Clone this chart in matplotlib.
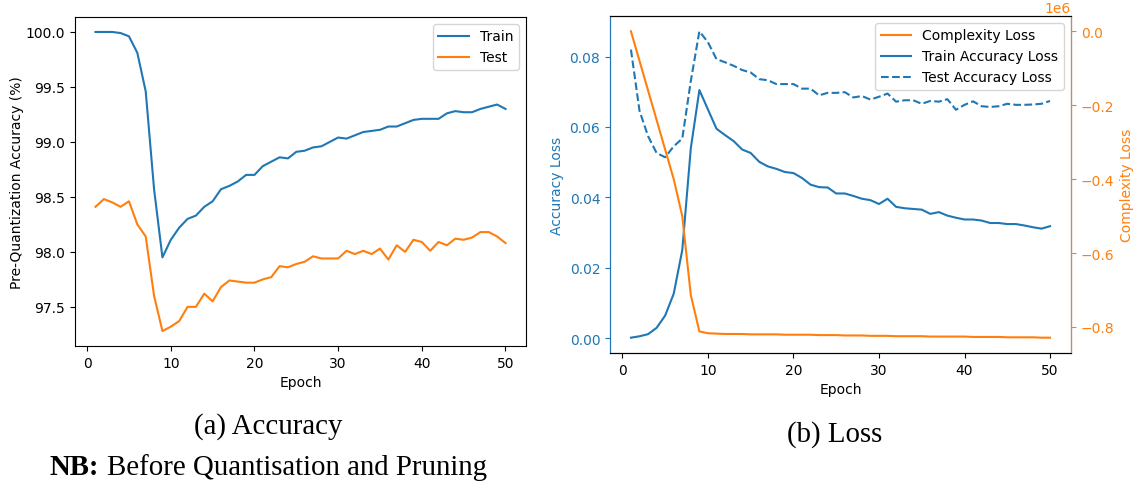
import matplotlib
matplotlib.use("Agg")
import matplotlib.pyplot as plt
import numpy as np

epochs = list(range(1, 51))

train_acc = [100.0, 100.0, 100.0, 99.99, 99.96, 99.81, 99.46, 98.57, 97.95, 98.11,
             98.22, 98.30, 98.33, 98.41, 98.46, 98.57, 98.60, 98.64, 98.70, 98.70,
             98.78, 98.82, 98.86, 98.85, 98.91, 98.92, 98.95, 98.96, 99.00, 99.04,
             99.03, 99.06, 99.09, 99.10, 99.11, 99.14, 99.14, 99.17, 99.20, 99.21,
             99.21, 99.21, 99.26, 99.28, 99.27, 99.27, 99.30, 99.32, 99.34, 99.30]

test_acc = [98.41, 98.48, 98.45, 98.41, 98.46, 98.25, 98.14, 97.60, 97.28, 97.32,
            97.37, 97.50, 97.50, 97.62, 97.55, 97.68, 97.74, 97.73, 97.72, 97.72,
            97.75, 97.77, 97.87, 97.86, 97.89, 97.91, 97.96, 97.94, 97.94, 97.94,
            98.01, 97.98, 98.01, 97.98, 98.03, 97.93, 98.06, 98.00, 98.11, 98.09,
            98.01, 98.09, 98.06, 98.12, 98.11, 98.13, 98.18, 98.18, 98.14, 98.08]

train_loss = [0.0001, 0.0005, 0.0011, 0.0029, 0.0064, 0.0126, 0.0250, 0.0540, 0.0705, 0.0650,
              0.0595, 0.0577, 0.0560, 0.0536, 0.0526, 0.0501, 0.0488, 0.0481, 0.0472, 0.0469,
              0.0455, 0.0436, 0.0429, 0.0428, 0.0411, 0.0411, 0.0404, 0.0396, 0.0392, 0.0381,
              0.0396, 0.0373, 0.0369, 0.0367, 0.0365, 0.0353, 0.0358, 0.0348, 0.0342, 0.0337,
              0.0337, 0.0334, 0.0327, 0.0327, 0.0324, 0.0324, 0.0320, 0.0315, 0.0311, 0.0318]

test_loss = [0.0820, 0.0646, 0.0574, 0.0526, 0.0514, 0.0545, 0.0567, 0.0731, 0.0872, 0.0841,
             0.0793, 0.0784, 0.0774, 0.0762, 0.0755, 0.0736, 0.0733, 0.0722, 0.0722, 0.0722,
             0.0709, 0.0709, 0.0690, 0.0697, 0.0697, 0.0699, 0.0684, 0.0688, 0.0678, 0.0686,
             0.0695, 0.0672, 0.0676, 0.0676, 0.0666, 0.0674, 0.0672, 0.0679, 0.0649, 0.0663,
             0.0673, 0.0659, 0.0657, 0.0659, 0.0666, 0.0663, 0.0663, 0.0664, 0.0666, 0.0674]

# complexity loss in units of 1e6
complexity_loss_e6 = [0.0, -0.08, -0.16, -0.24, -0.32, -0.40, -0.50, -0.714, -0.812, -0.817,
                      -0.818, -0.819, -0.819, -0.819, -0.820, -0.820, -0.820, -0.820, -0.821, -0.821,
                      -0.821, -0.821, -0.822, -0.822, -0.822, -0.823, -0.823, -0.823, -0.824, -0.824,
                      -0.824, -0.825, -0.825, -0.825, -0.825, -0.826, -0.826, -0.826, -0.826, -0.826,
                      -0.827, -0.827, -0.827, -0.827, -0.828, -0.828, -0.828, -0.828, -0.829, -0.829]
complexity_loss = [v * 1e6 for v in complexity_loss_e6]

x_ticks = [0, 10, 20, 30, 40, 50]
acc_ticks = [97.5, 98.0, 98.5, 99.0, 99.5, 100.0]
loss_ticks = [0.0, 0.02, 0.04, 0.06, 0.08]
complexity_ticks = [0.0, -0.2e6, -0.4e6, -0.6e6, -0.8e6]

W, H = 1134, 489
fig = plt.figure(figsize=(W / 100, H / 100), dpi=100)

def rect(x0, y0, x1, y1):
    return [x0 / W, 1 - y1 / H, (x1 - x0) / W, (y1 - y0) / H]

fs = 10
C0, C1 = "#1f77b4", "#ff7f0e"

# (a) Accuracy
ax1 = fig.add_axes(rect(75, 18, 526, 347))
ax1.plot(epochs, train_acc, color=C0, label="Train")
ax1.plot(epochs, test_acc, color=C1, label="Test")
ax1.set_xlabel("Epoch", fontsize=fs)
ax1.set_ylabel("Pre-Quantization Accuracy (%)", fontsize=fs, labelpad=1)
ax1.tick_params(labelsize=fs)
ax1.set_xticks(x_ticks)
ax1.set_yticks(acc_ticks)
ax1.legend(loc="upper right", fontsize=fs, handlelength=2.2)

# (b) Loss
ax2 = fig.add_axes(rect(610, 17, 1071, 354))
ax3 = ax2.twinx()
l1, = ax3.plot(epochs, complexity_loss, color=C1, label="Complexity Loss")
l2, = ax2.plot(epochs, train_loss, color=C0, label="Train Accuracy Loss")
l3, = ax2.plot(epochs, test_loss, color=C0, linestyle="--", label="Test Accuracy Loss")
ax2.set_xlabel("Epoch", fontsize=fs)
ax2.set_ylabel("Accuracy Loss", color=C0, fontsize=fs)
ax3.set_ylabel("Complexity Loss", color=C1, fontsize=fs)
ax2.tick_params(axis="y", colors=C0, labelsize=fs)
ax2.tick_params(axis="x", labelsize=fs)
ax3.tick_params(axis="y", colors=C1, labelsize=fs)
ax2.set_xticks(x_ticks)
ax2.set_yticks(loss_ticks)
ax3.set_yticks(complexity_ticks)
ax3.ticklabel_format(axis="y", style="sci", scilimits=(6, 6))
ax3.yaxis.get_offset_text().set_color(C1)
ax3.yaxis.get_offset_text().set_fontsize(fs)
ax2.spines["left"].set_color(C0)
ax3.spines["left"].set_color(C0)
ax3.spines["right"].set_color(C1)
ax3.legend(handles=[l1, l2, l3], loc="upper right", fontsize=fs, handlelength=2.2)

# captions
serif = ["Liberation Serif", "DejaVu Serif"]
cfs = 20.8
fig.text(268 / W, 1 - 427 / H, "(a) Accuracy", ha="center", va="center", fontsize=cfs, family=serif)
fig.text(835 / W, 1 - 435 / H, "(b) Loss", ha="center", va="center", fontsize=cfs, family=serif)
t_nb = fig.text(50 / W, 1 - 468 / H, "NB:", ha="left", va="center", fontsize=cfs,
                family=serif, fontweight="bold")
fig.canvas.draw()
bb = t_nb.get_window_extent()
space = 0.25 * cfs * 100 / 72
fig.text((bb.x1 + space) / W, 1 - 468 / H, "Before Quantisation and Pruning", ha="left",
         va="center", fontsize=cfs, family=serif)

fig.savefig("out.png", dpi=100)
